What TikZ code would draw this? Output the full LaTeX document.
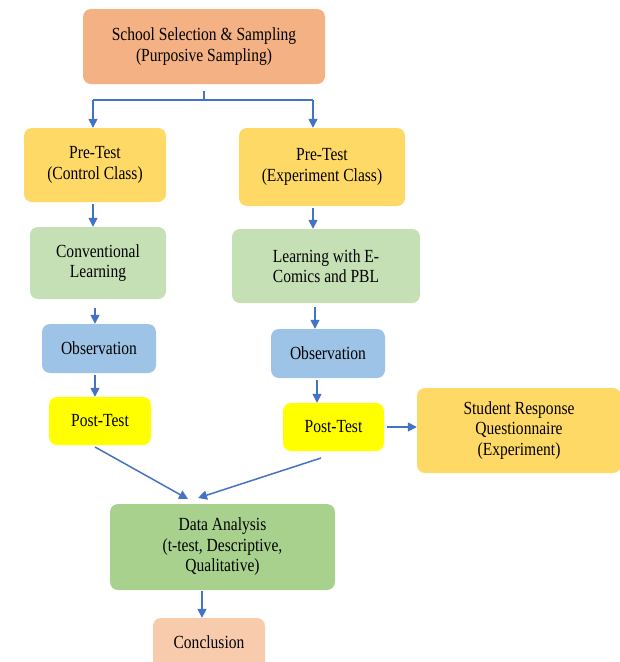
\documentclass[tikz,border=0pt]{standalone}
\usepackage{fontspec}
\setmainfont{Liberation Serif}[FakeStretch=0.84]
\usetikzlibrary{arrows.meta}
\definecolor{arrowblue}{HTML}{4472C4}
\definecolor{salmon}{HTML}{F4B183}
\definecolor{gold}{HTML}{FFD966}
\definecolor{lgreen}{HTML}{C5E0B4}
\definecolor{lblue}{HTML}{9DC3E6}
\definecolor{yell}{HTML}{FFFF00}
\definecolor{mgreen}{HTML}{A9D18E}
\definecolor{peach}{HTML}{F8CBAD}
\begin{document}
\begin{tikzpicture}[x=1pt,y=-1pt,
  box/.style={rounded corners=8pt, align=center, inner sep=2pt,
    font=\fontsize{18.5}{20.5}\selectfont, text=black},
  arr/.style={draw=arrowblue, line width=1.5pt, -{Triangle[length=9pt,width=9pt]}},
  lin/.style={draw=arrowblue, line width=1.5pt}]
\useasboundingbox (0,0) rectangle (620,662);
\clip (0,0) rectangle (620,662);
\node[box, fill=salmon, minimum width=242pt, minimum height=75pt] (school) at (204,46.5) {School Selection \& Sampling\\(Purposive Sampling)};
\node[box, fill=gold, minimum width=142pt, minimum height=74pt] (pre1) at (95,165) {Pre-Test\\(Control Class)};
\node[box, fill=gold, minimum width=166pt, minimum height=78pt] (pre2) at (322,167) {Pre-Test\\(Experiment Class)};
\node[box, fill=lgreen, minimum width=136pt, minimum height=72pt] (conv) at (98,263) {Conventional\\Learning};
\node[box, fill=lgreen, minimum width=188pt, minimum height=74pt] (learn) at (326,266) {Learning with E-\\Comics and PBL};
\node[box, fill=lblue, minimum width=114pt, minimum height=49pt] (obs1) at (99,348.5) {Observation};
\node[box, fill=lblue, minimum width=114pt, minimum height=49pt] (obs2) at (328,353.5) {Observation};
\node[box, fill=yell, minimum width=102pt, minimum height=48pt] (post1) at (100,421) {Post-Test};
\node[box, fill=yell, minimum width=101pt, minimum height=48pt] (post2) at (333.5,427) {Post-Test};
\node[box, fill=gold, minimum width=204pt, minimum height=85pt] (stud) at (519,430.5) {Student Response\\Questionnaire\\(Experiment)};
\node[box, fill=mgreen, minimum width=225pt, minimum height=86pt] (data) at (222.5,547) {Data Analysis\\(t-test, Descriptive,\\Qualitative)};
\node[box, fill=peach, minimum width=112pt, minimum height=54pt, text depth=0pt] (concl) at (209,645) {\raisebox{6pt}{Conclusion}};
% connectors
\coordinate (split) at (204,100);
\coordinate (s1) at (93,100);
\coordinate (s2) at (313,100);
\draw[lin] ([yshift=-7pt]school.south) -- (split);
\draw[lin] (s1) -- (s2);
\draw[arr] (s1) -- (pre1.north -| s1);
\draw[arr] (s2) -- (pre2.north -| s2);
\coordinate (a1) at (93,204);
\draw[arr] (a1) -- (conv.north -| a1);
\coordinate (a2) at (313,208);
\draw[arr] (a2) -- (learn.north -| a2);
\coordinate (b1) at (95,308);
\draw[arr] (b1) -- (obs1.north -| b1);
\coordinate (b2) at (315,307);
\draw[arr] (b2) -- (obs2.north -| b2);
\coordinate (c1) at (95,375);
\draw[arr] (c1) -- (post1.north -| c1);
\coordinate (c2) at (317,380);
\draw[arr] (c2) -- (post2.north -| c2);
\coordinate (d2) at (387,427);
\draw[arr] (d2) -- (stud.west |- d2);
\coordinate (e1) at (95,447);
\coordinate (e1t) at (188,499);
\draw[arr] (e1) -- (e1t);
\coordinate (e2) at (321,458);
\coordinate (e2t) at (198,498);
\draw[arr] (e2) -- (e2t);
\coordinate (f1) at (202,591);
\draw[arr] (f1) -- (concl.north -| f1);
\end{tikzpicture}
\end{document}
